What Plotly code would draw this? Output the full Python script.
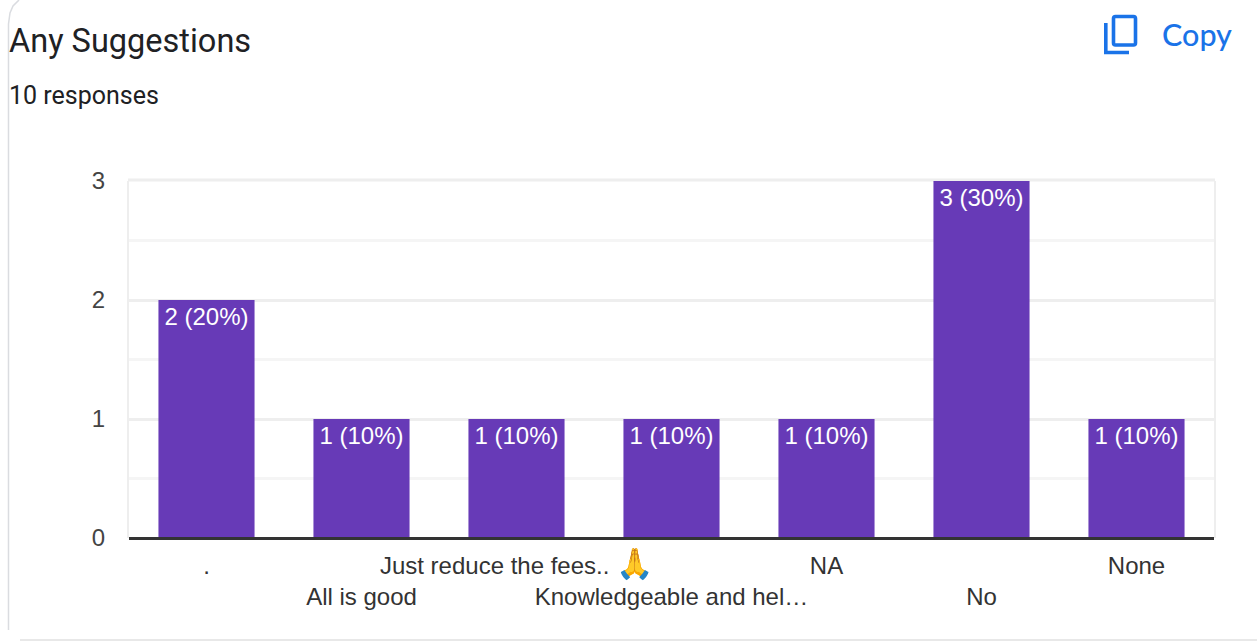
import plotly.graph_objects as go

W, H = 1257, 641
L, R, T, B = 129, 43, 181, 103

categories = [".", "All is good", "Just reduce the fees.. 🙏", "Knowledgeable and hel…", "NA", "No", "None"]
tick_labels = [".", "<br>All is good", "Just reduce the fees.. <span style=\"font-size:30px\">🙏</span>",
               "<br>Knowledgeable and hel…", "NA", "<br>No", "None"]
values = [2, 1, 1, 1, 1, 3, 1]
labels = ["2 (20%)", "1 (10%)", "1 (10%)", "1 (10%)", "1 (10%)", "3 (30%)", "1 (10%)"]
y_ticks = [0, 1, 2, 3]
BAR = "#673ab7"
BLUE = "#1a73e8"


def px(x):
    return (x - L) / (W - L - R)


def py(y):
    return 1 - (y - T) / (H - T - B)


def path(points):
    return "M" + " L".join(f"{px(a):.5f},{py(b):.5f}" for a, b in points)


def rounded_rect(x0, y0, x1, y1, r):
    p = lambda a, b: f"{px(a):.5f},{py(b):.5f}"
    return (f"M{p(x0 + r, y0)} L{p(x1 - r, y0)} Q{p(x1, y0)} {p(x1, y0 + r)} "
            f"L{p(x1, y1 - r)} Q{p(x1, y1)} {p(x1 - r, y1)} "
            f"L{p(x0 + r, y1)} Q{p(x0, y1)} {p(x0, y1 - r)} "
            f"L{p(x0, y0 + r)} Q{p(x0, y0)} {p(x0 + r, y0)} Z")


fig = go.Figure(go.Bar(
    x=categories, y=values, text=labels, width=0.62,
    marker=dict(color=BAR, line=dict(width=0)),
    textposition="inside", insidetextanchor="end", textangle=0,
    constraintext="none", cliponaxis=False,
    insidetextfont=dict(family="Liberation Sans", size=24, color="white"),
    hoverinfo="skip",
))

shapes = [
    dict(type="path", xref="paper", yref="paper",
         path=path([(8.5, 630), (8.5, 24), (10, 13), (13, 6), (19, 0)]),
         line=dict(color="#dadce0", width=1.5), layer="below"),
    dict(type="line", xref="paper", yref="paper", x0=px(20), x1=px(W), y0=py(640), y1=py(640),
         line=dict(color="#e0e0e0", width=1.5), layer="below"),
    dict(type="line", xref="paper", yref="paper", x0=px(128), x1=px(1215), y0=py(180), y1=py(180),
         line=dict(color="#eeeeee", width=3), layer="below"),
    dict(type="line", xref="paper", yref="paper", x0=px(129), x1=px(1214), y0=py(538.5), y1=py(538.5),
         line=dict(color="#333333", width=3), layer="above"),
    dict(type="path", xref="paper", yref="paper", path=rounded_rect(1113.5, 16.5, 1135.5, 45, 2),
         line=dict(color=BLUE, width=3.6)),
    dict(type="path", xref="paper", yref="paper",
         path=path([(1105.8, 23), (1105.8, 52.5), (1129, 52.5)]),
         line=dict(color=BLUE, width=3.6)),
]

annotations = [
    dict(text="Any Suggestions", x=px(7), y=py(41), xref="paper", yref="paper", xanchor="left", yanchor="middle",
         showarrow=False, font=dict(family="Roboto", size=32.5, color="#202124")),
    dict(text="10 responses", x=px(7), y=py(96), xref="paper", yref="paper", xanchor="left", yanchor="middle",
         showarrow=False, font=dict(family="Roboto", size=25, color="#202124")),
    dict(text="Copy", x=px(1160), y=py(34), xref="paper", yref="paper", xanchor="left", yanchor="middle",
         showarrow=False, font=dict(family="Lato", size=30.5, weight=500, color=BLUE)),
]

fig.update_layout(
    width=W, height=H, autosize=False,
    margin=dict(l=L, r=R, t=T, b=B, pad=0),
    paper_bgcolor="white", plot_bgcolor="white",
    showlegend=False, bargap=0.38,
    shapes=shapes, annotations=annotations,
    xaxis=dict(
        type="category", categoryorder="array", categoryarray=categories,
        tickmode="array", tickvals=categories, ticktext=tick_labels, tickangle=0,
        tickfont=dict(family="Liberation Sans", size=24, color="#333333"),
        showgrid=False, showline=False, zeroline=False,
        ticks="outside", ticklen=6, tickcolor="rgba(0,0,0,0)",
    ),
    yaxis=dict(
        range=[0, 3], tickmode="array", tickvals=y_ticks,
        tickfont=dict(family="Liberation Sans", size=24, color="#444444"),
        showgrid=True, gridcolor="#eeeeee", gridwidth=3, zeroline=False,
        showline=True, mirror=True, linecolor="#eeeeee", linewidth=2,
        ticks="", ticklabelstandoff=17,
        minor=dict(tickmode="array", tickvals=[0.5, 1.5, 2.5], showgrid=True, gridcolor="#f5f5f5", gridwidth=3),
    ),
)

fig.write_html("out.html", config={"displayModeBar": False},
               post_script="document.body.style.margin='0';document.documentElement.style.overflow='hidden';")
